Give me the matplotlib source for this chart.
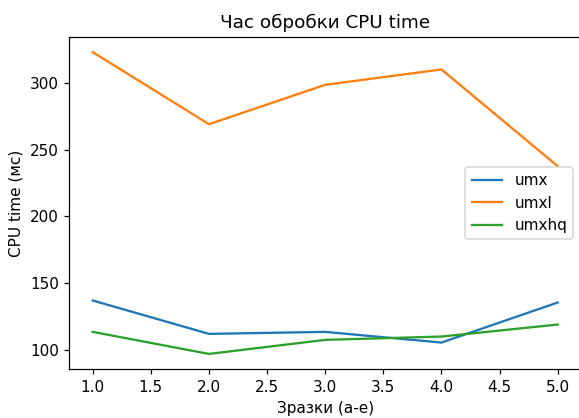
import numpy as np
from matplotlib import pyplot as plt

samples = [1, 2, 3, 4, 5]
umx = [137, 112, 113.5, 105.5, 135.5]
umxl = [323, 269, 298.5, 310, 237.5]
umxhq = [113.5, 97, 107.5, 110, 119]

W, H = 579, 418
DPI = 110
fig = plt.figure(figsize=(W / DPI, H / DPI), dpi=DPI)
ax = fig.add_axes([69.4 / W, (H - 369) / H, (581 - 69.4) / W, (369 - 37) / H])

ax.plot(samples, umx, label="umx")
ax.plot(samples, umxl, label="umxl")
ax.plot(samples, umxhq, label="umxhq")
ax.set_title("Час обробки CPU time")
ax.set_xlabel("Зразки (a-e)")
ax.set_ylabel("CPU time (мс)")
ax.legend(loc="center right")

fig.savefig("out.png", dpi=DPI)
